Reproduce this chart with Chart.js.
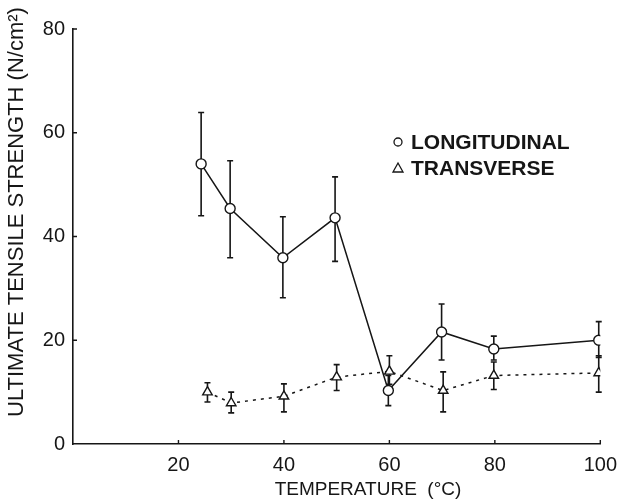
<!DOCTYPE html>
<html lang="en">
<head>
    <meta charset="UTF-8">
    <title>Tensile Strength vs Temperature</title>
    <style>
        body {
            margin: 0;
            background: #fff;
        }
        .chart-container {
            width: 626px;
            height: 503px;
        }
    </style>
</head>
<body>
    <div class="chart-container">
        <canvas id="strengthChart" width="626" height="503"></canvas>
    </div>

    <script src="https://cdn.jsdelivr.net/npm/chart.js"></script>
    <script>
        // values
        const longTemps = [24.3, 29.8, 39.8, 49.7, 59.8, 69.9, 79.8, 99.7];
        const longMean = [54, 45.4, 35.9, 43.6, 10.3, 21.6, 18.3, 20.0];
        const longLow = [44, 35.9, 28.2, 35.2, 7.4, 16.2, 16.2, 16.7];
        const longHigh = [63.9, 54.6, 43.8, 51.5, 13.2, 27.0, 20.8, 23.6];

        const transTemps = [25.5, 30.0, 40.0, 50.0, 60.0, 70.2, 79.8, 99.7];
        const transMean = [10.0, 7.9, 9.2, 12.9, 14.0, 10.3, 13.2, 13.7];
        const transLow = [8.1, 6.0, 6.2, 10.3, 11.5, 6.2, 10.5, 10.0];
        const transHigh = [11.8, 10.0, 11.6, 15.3, 17.0, 13.9, 15.8, 17.0];

        const xTicks = [20, 40, 60, 80, 100];
        const yTicks = [0, 20, 40, 60, 80];

        const seriesLabels = ['LONGITUDINAL', 'TRANSVERSE'];
        const xTitle = 'TEMPERATURE  (°C)';
        const yTitle = 'ULTIMATE TENSILE STRENGTH (N/cm²)';

        const FONT = "'Liberation Sans', Arial, sans-serif";
        const INK = '#161616';

        function toPoints(xs, ys) {
            return xs.map((x, i) => ({ x: x, y: ys[i] }));
        }

        // error bars behind markers
        const errorBars = {
            id: 'errorBars',
            beforeDatasetsDraw(chart) {
                const ctx = chart.ctx;
                const xs = chart.scales.x;
                const ys = chart.scales.y;
                const sets = [[longTemps, longLow, longHigh], [transTemps, transLow, transHigh]];
                ctx.save();
                ctx.strokeStyle = INK;
                ctx.lineWidth = 1.6;
                sets.forEach(([t, lo, hi]) => {
                    t.forEach((v, i) => {
                        const px = xs.getPixelForValue(v);
                        const y1 = ys.getPixelForValue(lo[i]);
                        const y2 = ys.getPixelForValue(hi[i]);
                        ctx.beginPath();
                        ctx.moveTo(px, y1);
                        ctx.lineTo(px, y2);
                        ctx.moveTo(px - 3, y1);
                        ctx.lineTo(px + 3, y1);
                        ctx.moveTo(px - 3, y2);
                        ctx.lineTo(px + 3, y2);
                        ctx.stroke();
                    });
                });
                ctx.restore();
            }
        };

        // inward tick marks, axis titles and the legend
        const decorations = {
            id: 'decorations',
            afterDraw(chart) {
                const ctx = chart.ctx;
                const xs = chart.scales.x;
                const ys = chart.scales.y;
                const area = chart.chartArea;
                ctx.save();
                ctx.strokeStyle = INK;
                ctx.lineWidth = 1.4;
                ctx.beginPath();
                xTicks.forEach(v => {
                    const px = xs.getPixelForValue(v);
                    ctx.moveTo(px, area.bottom);
                    ctx.lineTo(px, area.bottom - 4);
                });
                yTicks.forEach(v => {
                    if (v === 0) return;
                    const py = ys.getPixelForValue(v);
                    ctx.moveTo(area.left, py);
                    ctx.lineTo(area.left + 4, py);
                });
                ctx.stroke();

                ctx.fillStyle = INK;
                ctx.font = '19px ' + FONT;
                ctx.textAlign = 'center';
                ctx.textBaseline = 'middle';
                ctx.fillText(xTitle, 368, 490);

                ctx.save();
                ctx.translate(17, 212);
                ctx.rotate(-Math.PI / 2);
                ctx.font = '22px ' + FONT;
                ctx.fillText(yTitle, 0, 0);
                ctx.restore();

                // legend
                ctx.font = 'bold 21px ' + FONT;
                ctx.textAlign = 'left';
                chart.data.datasets.forEach((ds, i) => {
                    const y = 142 + i * 26;
                    const sx = 398;
                    ctx.lineWidth = 1.3;
                    ctx.beginPath();
                    if (ds.pointStyle === 'triangle') {
                        ctx.moveTo(sx, y - 5);
                        ctx.lineTo(sx + 5, y + 4);
                        ctx.lineTo(sx - 5, y + 4);
                        ctx.closePath();
                    } else {
                        ctx.arc(sx, y, 4, 0, Math.PI * 2);
                    }
                    ctx.stroke();
                    ctx.fillText(ds.label, 411, y + 1);
                });
                ctx.restore();
            }
        };

        function renderChart() {
            const ctx = document.getElementById('strengthChart').getContext('2d');
            new Chart(ctx, {
                type: 'line',
                data: {
                    datasets: [{
                        label: seriesLabels[0],
                        data: toPoints(longTemps, longMean),
                        borderColor: INK,
                        borderWidth: 1.5,
                        pointStyle: 'circle',
                        pointRadius: 5,
                        pointBackgroundColor: '#fff',
                        pointBorderColor: INK,
                        pointBorderWidth: 1.4,
                        tension: 0
                    }, {
                        label: seriesLabels[1],
                        data: toPoints(transTemps, transMean),
                        borderColor: INK,
                        borderWidth: 1.5,
                        borderDash: [3, 5],
                        pointStyle: 'triangle',
                        pointRadius: 5.5,
                        pointBackgroundColor: '#fff',
                        pointBorderColor: INK,
                        pointBorderWidth: 1.4,
                        tension: 0
                    }]
                },
                options: {
                    responsive: false,
                    animation: false,
                    layout: {
                        padding: { left: 0, right: 21, top: 29, bottom: 0 }
                    },
                    plugins: {
                        legend: { display: false },
                        tooltip: { enabled: false }
                    },
                    scales: {
                        x: {
                            type: 'linear',
                            min: 0,
                            max: 100,
                            afterBuildTicks(scale) {
                                scale.ticks = xTicks.map(v => ({ value: v }));
                            },
                            afterFit(scale) {
                                scale.height = 59;
                            },
                            grid: { drawOnChartArea: false, drawTicks: false },
                            border: { color: INK, width: 1.6 },
                            ticks: {
                                color: INK,
                                padding: 9,
                                maxRotation: 0,
                                font: { family: FONT, size: 20 }
                            }
                        },
                        y: {
                            min: 0,
                            max: 80,
                            afterBuildTicks(scale) {
                                scale.ticks = yTicks.map(v => ({ value: v }));
                            },
                            afterFit(scale) {
                                scale.width = 73;
                            },
                            grid: { drawOnChartArea: false, drawTicks: false },
                            border: { color: INK, width: 1.6 },
                            ticks: {
                                color: INK,
                                padding: 8,
                                font: { family: FONT, size: 20 }
                            }
                        }
                    }
                },
                plugins: [errorBars, decorations]
            });
        }

        renderChart();
    </script>
</body>
</html>
